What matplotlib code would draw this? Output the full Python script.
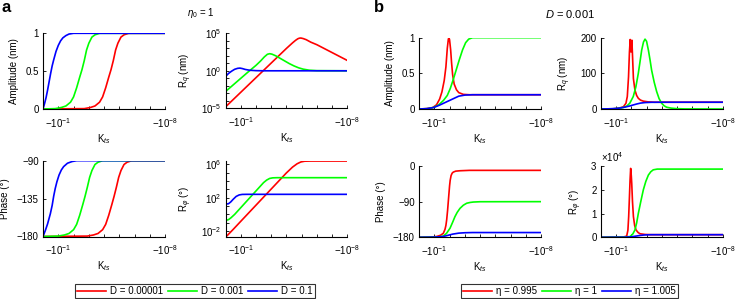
import matplotlib
matplotlib.use("Agg")
import matplotlib.pyplot as plt
from matplotlib.ticker import FixedLocator, NullFormatter

plt.rcParams['font.family'] = ['Liberation Sans', 'DejaVu Sans']
plt.rcParams['mathtext.fontset'] = 'custom'
plt.rcParams['mathtext.rm'] = 'Liberation Sans'
plt.rcParams['mathtext.it'] = 'Liberation Sans:italic'
plt.rcParams['mathtext.bf'] = 'Liberation Sans:bold'
plt.rcParams['font.size'] = 7

# curves: (decades d, value) with K_ts = -10^-d

# --- panel a: eta0 = 1, D varies ---
a_amp_red = [(0, 0.0), (2.7, 0.005), (3.1, 0.02), (3.4, 0.04), (3.7, 0.09), (3.9, 0.16), (4.1, 0.28),
             (4.3, 0.42), (4.45, 0.52), (4.6, 0.64), (4.75, 0.78), (4.9, 0.87), (5.1, 0.95), (5.3, 0.98),
             (5.6, 1.0), (8, 1.0)]
a_amp_green = [(0, 0.0), (0.8, 0.005), (1.2, 0.02), (1.5, 0.04), (1.8, 0.09), (2.0, 0.16), (2.2, 0.28),
               (2.4, 0.42), (2.55, 0.52), (2.7, 0.64), (2.85, 0.78), (3.0, 0.87), (3.2, 0.95), (3.4, 0.98),
               (3.7, 1.0), (8, 1.0)]
a_amp_blue = [(0, 0.0), (0.1, 0.07), (0.2, 0.15), (0.3, 0.25), (0.4, 0.36), (0.5, 0.47), (0.6, 0.57),
              (0.7, 0.65), (0.85, 0.76), (1.0, 0.84), (1.15, 0.9), (1.3, 0.94), (1.5, 0.97), (1.7, 0.99),
              (2.0, 1.0), (8, 1.0)]

# log10(Rq / nm)
a_rq_red = [(0, -4.82), (1, -2.87), (2, -0.92), (3, 1.03), (4, 2.98), (4.4, 3.72), (4.6, 4.06),
            (4.75, 4.27), (4.85, 4.35), (4.95, 4.37), (5.1, 4.3), (5.3, 4.15), (5.6, 3.82), (6, 3.48),
            (7, 2.43), (8, 1.38)]
a_rq_green = [(0, -2.77), (0.5, -1.89), (1, -1.01), (1.5, -0.13), (2, 0.72), (2.3, 1.3), (2.55, 1.85),
              (2.75, 2.2), (2.9, 2.28), (3.05, 2.22), (3.3, 2.0), (3.6, 1.65), (3.9, 1.3), (4.2, 0.95),
              (4.5, 0.65), (4.8, 0.4), (5.1, 0.22), (5.5, 0.08), (6, 0.02), (8, 0.0)]
a_rq_blue = [(0, -0.76), (0.2, -0.35), (0.4, -0.05), (0.6, 0.2), (0.8, 0.33), (0.95, 0.36), (1.1, 0.3),
             (1.3, 0.18), (1.6, 0.07), (2.0, 0.02), (2.5, 0.0), (8, 0.0)]

a_ph_red = [(0, -180), (2.9, -179.5), (3.3, -178.2), (3.6, -176.4), (3.9, -171.9), (4.1, -165.6),
            (4.3, -154.8), (4.5, -142.2), (4.65, -132.3), (4.8, -121.5), (4.95, -109.8), (5.1, -101.7),
            (5.3, -94.5), (5.5, -91.8), (5.8, -90), (8, -90)]
a_ph_green = [(0, -180), (1.0, -179.5), (1.4, -178.2), (1.7, -176.4), (2.0, -171.9), (2.2, -165.6),
              (2.4, -154.8), (2.6, -142.2), (2.75, -132.3), (2.9, -121.5), (3.05, -109.8), (3.2, -101.7),
              (3.4, -94.5), (3.6, -91.8), (3.9, -90), (8, -90)]
a_ph_blue = [(0, -180), (0.15, -173), (0.3, -165), (0.48, -153), (0.6, -143), (0.7, -132), (0.8, -123),
             (0.91, -115), (1.05, -107), (1.2, -101), (1.35, -97), (1.6, -93), (1.9, -91), (2.2, -90),
             (8, -90)]

# log10(Rphi / deg)
a_rphi_red = [(0, -2.65), (0.1, -2.55), (0.5, -1.8), (1, -0.83), (2, 1.1), (3, 3.03), (4, 4.96),
              (4.4, 5.65), (4.7, 6.05), (4.95, 6.27), (5.2, 6.36), (5.6, 6.38), (8, 6.38)]
a_rphi_green = [(0, -0.67), (0.1, -0.68), (0.2, -0.62), (0.35, -0.42), (0.6, 0.0), (1, 0.8), (1.5, 1.8),
                (2, 2.8), (2.3, 3.4), (2.5, 3.8), (2.7, 4.1), (2.9, 4.3), (3.1, 4.37), (3.4, 4.39),
                (8, 4.39)]
a_rphi_blue = [(0, 1.32), (0.1, 1.25), (0.2, 1.28), (0.35, 1.5), (0.5, 1.8), (0.7, 2.15), (0.9, 2.33),
               (1.1, 2.39), (1.4, 2.4), (8, 2.4)]

# --- panel b: D = 0.001, eta varies ---
b_amp_red = [(0, 0.0), (0.5, 0.005), (0.9, 0.02), (1.15, 0.06), (1.35, 0.14), (1.5, 0.24), (1.65, 0.4),
             (1.76, 0.59), (1.85, 0.85), (1.92, 0.98), (1.96, 1.0), (2.0, 0.97), (2.07, 0.83),
             (2.13, 0.65), (2.2, 0.48), (2.3, 0.35), (2.45, 0.27), (2.6, 0.23), (2.9, 0.205), (3.3, 0.2),
             (8, 0.2)]
b_amp_green = [(0, 0.0), (0.6, 0.005), (1.0, 0.025), (1.3, 0.06), (1.6, 0.12), (1.85, 0.19), (2.05, 0.29),
               (2.25, 0.42), (2.45, 0.56), (2.65, 0.7), (2.85, 0.83), (3.05, 0.93), (3.25, 0.98),
               (3.5, 1.0), (8, 1.0)]
b_amp_blue = [(0, 0.0), (0.5, 0.005), (0.94, 0.02), (1.3, 0.05), (1.6, 0.08), (2.0, 0.12), (2.3, 0.15),
              (2.6, 0.18), (3.0, 0.195), (3.5, 0.2), (8, 0.2)]

b_rq_red = [(0, 0), (0.8, 0.5), (1.15, 2), (1.48, 6), (1.65, 16), (1.74, 35), (1.82, 90), (1.88, 160),
            (1.93, 195), (1.98, 160), (2.04, 193), (2.09, 140), (2.14, 85), (2.24, 53), (2.35, 38),
            (2.46, 30), (2.6, 25), (2.79, 22), (3.1, 20), (3.5, 19), (8, 19)]
b_rq_green = [(0, 0), (0.8, 0.5), (1.2, 2), (1.5, 4.5), (1.7, 8), (1.9, 16), (2.13, 35), (2.3, 62),
              (2.46, 100), (2.58, 135), (2.68, 165), (2.8, 188), (2.9, 196), (3.0, 190), (3.12, 165),
              (3.23, 137), (3.33, 109), (3.5, 75), (3.66, 49), (3.82, 29), (3.99, 16), (4.15, 9),
              (4.31, 5), (4.6, 2.5), (4.97, 1), (5.5, 0.3), (8, 0)]
b_rq_blue = [(0, 0), (0.5, 0.5), (1.0, 1.5), (1.3, 3), (1.6, 5.5), (1.9, 8.5), (2.1, 11), (2.35, 14),
             (2.6, 16.5), (2.9, 18), (3.3, 18.8), (4, 19), (8, 19)]

b_ph_red = [(0, -180), (0.8, -179.5), (1.15, -178), (1.4, -175), (1.59, -170), (1.7, -160), (1.76, -150),
            (1.81, -136), (1.87, -112), (1.92, -88), (1.96, -69), (2.0, -50), (2.04, -36), (2.1, -24),
            (2.17, -18), (2.24, -15.5), (2.4, -13), (2.68, -12), (3.3, -11), (8, -11)]
b_ph_green = [(0, -180), (1.0, -179.5), (1.3, -179), (1.59, -177), (1.8, -170), (2.03, -157), (2.2, -142),
              (2.35, -128), (2.5, -117), (2.68, -107), (2.9, -99), (3.12, -94), (3.35, -92), (3.55, -91),
              (4, -90.2), (8, -90)]
b_ph_blue = [(0, -180), (1.0, -179.5), (1.59, -178), (1.9, -175), (2.2, -172), (2.6, -169.5), (3.0, -168.5),
             (3.5, -168), (8, -168)]

# Rphi in units of 1e4 deg
b_rphi_red = [(0, 0), (1.2, 0.005), (1.5, 0.015), (1.7, 0.05), (1.78, 0.3), (1.83, 0.87), (1.88, 1.7),
              (1.92, 2.4), (1.96, 2.9), (2.0, 2.6), (2.03, 2.27), (2.08, 1.5), (2.14, 0.87), (2.22, 0.5),
              (2.31, 0.31), (2.45, 0.2), (2.57, 0.15), (2.9, 0.12), (3.3, 0.11), (8, 0.11)]
b_rphi_green = [(0, 0), (1.5, 0.01), (1.92, 0.03), (2.1, 0.14), (2.24, 0.31), (2.35, 0.6), (2.46, 1.0),
                (2.62, 1.5), (2.79, 2.0), (2.95, 2.35), (3.12, 2.62), (3.28, 2.76), (3.44, 2.84),
                (3.7, 2.87), (8, 2.87)]
b_rphi_blue = [(0, 0), (1.5, 0.005), (2.0, 0.02), (2.3, 0.05), (2.6, 0.08), (2.9, 0.1), (3.3, 0.11),
               (8, 0.11)]

labels_a = ['D = 0.00001', 'D = 0.001', 'D = 0.1']
labels_b = ['\u03b7 = 0.995', '\u03b7 = 1', '\u03b7 = 1.005']
colors = ['#ff0000', '#00ff00', '#0000ff']

W, H = 735, 299
fig = plt.figure(figsize=(W / 100, H / 100), dpi=100)


def px_axes(x0, y0, x1, y1):
    return fig.add_axes([x0 / W, 1 - y1 / H, (x1 - x0) / W, (y1 - y0) / H])


def style(ax, ylabel):
    for s in ['top', 'right']:
        ax.spines[s].set_visible(False)
    ax.spines['left'].set_linewidth(0.8)
    ax.spines['bottom'].set_linewidth(0.8)
    ax.set_xscale('log')
    ax.set_xlim(1, 1e-8)
    ax.xaxis.set_major_locator(FixedLocator([1e-1, 1e-8]))
    ax.xaxis.set_minor_locator(FixedLocator([10.0 ** -k for k in range(0, 9)]))
    ax.xaxis.set_minor_formatter(NullFormatter())
    ax.set_xticklabels(['\u221210$^{-1}$', '\u221210$^{-8}$'])
    ax.tick_params(which='both', direction='in', length=2.5, width=0.6, labelsize=7, pad=3)
    ax.tick_params(axis='x', which='both', pad=5)
    ax.set_xlabel('K$_{ts}$', fontsize=7, labelpad=1.5)
    ax.set_ylabel(ylabel, fontsize=7, labelpad=5)


def draw(ax, curves, logy=False, scale=1.0):
    lines = []
    for c, col in zip(curves, colors):
        x = [10.0 ** -d for d, v in c]
        if logy:
            y = [10.0 ** v for d, v in c]
        else:
            y = [v * scale for d, v in c]
        ln, = ax.plot(x, y, color=col, lw=1.2, solid_joinstyle='round')
        lines.append(ln)
    return lines


# panel a
ax = px_axes(43, 33.3, 165.3, 109)
draw(ax, [a_amp_red, a_amp_green, a_amp_blue])
ax.set_ylim(0, 1)
ax.set_yticks([0, 0.5, 1])
ax.set_yticklabels(['0', '0.5', '1'])
style(ax, 'Amplitude (nm)')

ax = px_axes(225.5, 33.3, 347.3, 108.3)
draw(ax, [a_rq_red, a_rq_green, a_rq_blue], logy=True)
ax.set_yscale('log')
ax.set_ylim(1e-5, 1e5)
ax.yaxis.set_major_locator(FixedLocator([1e-5, 1e0, 1e5]))
ax.yaxis.set_minor_locator(FixedLocator([10.0 ** k for k in range(-5, 6)]))
ax.yaxis.set_minor_formatter(NullFormatter())
ax.set_yticklabels(['10$^{-5}$', '10$^{0}$', '10$^{5}$'])
style(ax, 'R$_q$ (nm)')

ax = px_axes(43, 160.7, 165.3, 236.5)
lines_a = draw(ax, [a_ph_red, a_ph_green, a_ph_blue])
ax.set_ylim(-180, -90)
ax.set_yticks([-180, -135, -90])
style(ax, 'Phase (\u00b0)')

ax = px_axes(225.5, 160.7, 347.3, 236.5)
draw(ax, [a_rphi_red, a_rphi_green, a_rphi_blue], logy=True)
ax.set_yscale('log')
ax.set_ylim(10 ** -2.64, 10 ** 6.42)
ax.yaxis.set_major_locator(FixedLocator([1e-2, 1e2, 1e6]))
ax.yaxis.set_minor_locator(FixedLocator([10.0 ** k for k in range(-2, 7)]))
ax.yaxis.set_minor_formatter(NullFormatter())
ax.set_yticklabels(['10$^{-2}$', '10$^{2}$', '10$^{6}$'])
style(ax, 'R$_{\\varphi}$ (\u00b0)')

# panel b
ax = px_axes(419, 37.7, 541.3, 109)
draw(ax, [b_amp_red, b_amp_green, b_amp_blue])
ax.set_ylim(0, 1)
ax.set_yticks([0, 0.5, 1])
ax.set_yticklabels(['0', '0.5', '1'])
style(ax, 'Amplitude (nm)')

ax = px_axes(600.7, 37.7, 723, 109)
draw(ax, [b_rq_red, b_rq_green, b_rq_blue])
ax.set_ylim(0, 200)
ax.set_yticks([0, 100, 200])
style(ax, 'R$_q$ (nm)')

ax = px_axes(419, 166, 541.3, 237.3)
lines_b = draw(ax, [b_ph_red, b_ph_green, b_ph_blue])
ax.set_ylim(-180, 0)
ax.set_yticks([-180, -90, 0])
style(ax, 'Phase (\u00b0)')

ax = px_axes(600.7, 166, 723, 237.3)
draw(ax, [b_rphi_red, b_rphi_green, b_rphi_blue], scale=1e4)
ax.set_ylim(0, 3e4)
ax.set_yticks([0, 1e4, 2e4, 3e4])
ax.set_yticklabels(['0', '1', '2', '3'])
ax.text(0.0, 1.03, '\u00d710$^{4}$', transform=ax.transAxes, fontsize=7, ha='left', va='bottom')
style(ax, 'R$_{\\varphi}$ (\u00b0)')

# titles and panel letters
fig.text(201 / W, 1 - 13 / H, '$\\eta_0$ = 1', ha='center', va='center', fontsize=7)
fig.text(570 / W, 1 - 14 / H, '$D$ = 0.001', ha='center', va='center', fontsize=8)
fig.text(2 / W, 1 - 8 / H, 'a', ha='left', va='center', fontsize=12, fontweight='bold')
fig.text(374 / W, 1 - 8 / H, 'b', ha='left', va='center', fontsize=12, fontweight='bold')

leg_kw = dict(ncol=3, loc='center', frameon=True, fancybox=False, edgecolor='black', fontsize=7,
              handlelength=3.0, handletextpad=0.4, columnspacing=0.5, borderpad=0.25, borderaxespad=0)
leg = fig.legend(lines_a, labels_a, bbox_to_anchor=(195 / W, 1 - 291 / H), **leg_kw)
leg.get_frame().set_linewidth(0.8)
leg = fig.legend(lines_b, labels_b, bbox_to_anchor=(569.5 / W, 1 - 291 / H), **leg_kw)
leg.get_frame().set_linewidth(0.8)

fig.savefig('out.png', dpi=100)
